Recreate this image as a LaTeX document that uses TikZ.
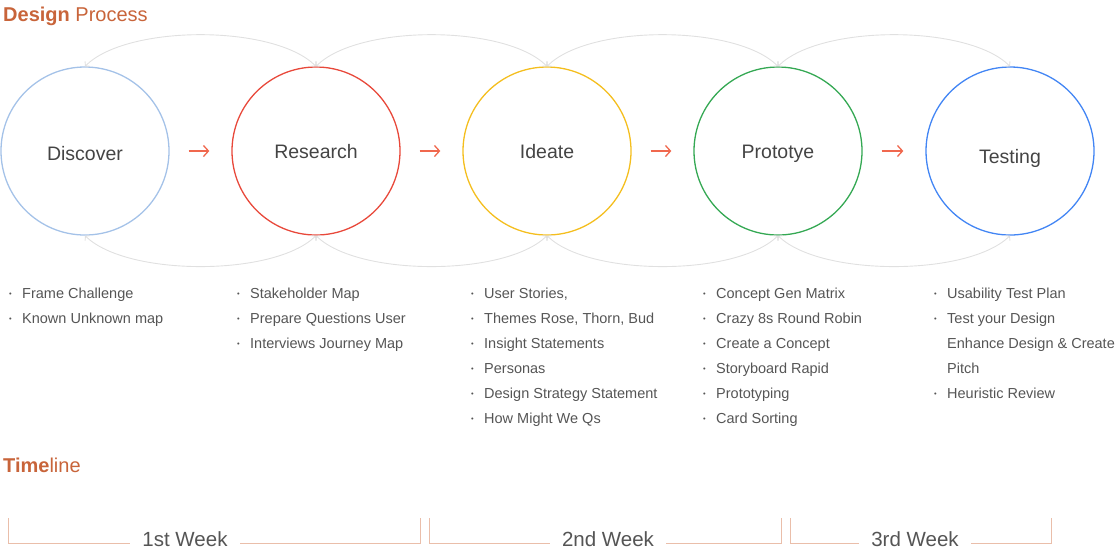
\documentclass[tikz,border=0pt]{standalone}
\usepackage{fontspec}
\setmainfont{Liberation Sans}
\usetikzlibrary{arrows.meta}
\definecolor{accent}{RGB}{200,100,58}
\definecolor{arrowred}{RGB}{240,104,78}
\definecolor{discover}{RGB}{164,194,232}
\definecolor{research}{RGB}{232,72,58}
\definecolor{ideate}{RGB}{244,190,30}
\definecolor{prototype}{RGB}{52,168,83}
\definecolor{testing}{RGB}{66,133,244}
\definecolor{loopgrey}{RGB}{224,224,224}
\definecolor{weekline}{RGB}{234,190,170}
\definecolor{txt}{RGB}{85,85,85}
\newcommand{\bul}{\makebox[13pt][l]{\raisebox{1.6pt}{\fontsize{7.5}{7.5}\selectfont\textbullet}}}

\begin{document}
\begin{tikzpicture}[
  x=1pt, y=-1pt,
  title/.style={anchor=base west, inner sep=0pt, text=accent, font=\fontsize{20}{24}\selectfont},
  phase/.style={circle, minimum size=168pt, inner sep=0pt, line width=1.3pt, text height=14pt, text depth=0pt, text=txt!80!black, font=\fontsize{19.5}{22}\selectfont},
  next/.style={-{Straight Barb[length=5pt, width=11pt]}, line width=1.3pt, arrowred, shorten <=19pt, shorten >=22pt},
  loop arc/.style={{Straight Barb[length=3pt, width=7pt]}-{Straight Barb[length=3pt, width=7pt]}, loopgrey, line width=0.9pt},
  item/.style={anchor=base west, inner sep=0pt, text=txt, font=\fontsize{14.5}{17}\selectfont},
  week/.style={weekline, line width=1pt},
  weeklabel/.style={anchor=base, fill=white, inner xsep=12pt, inner ysep=3pt, text=txt, font=\fontsize{20.5}{24}\selectfont}
]
\useasboundingbox (0,0) rectangle (1116,558);

% Titles
\node[title] (head) at (3,21) {\textbf{Design} Process};
\node[title] (tline) at (3,472) {\textbf{Time}line};

% Phases
\node[phase, draw=discover, text height=18pt] (dis) at (85,151) {Discover};
\node[phase, draw=research] (res) at (316,151) {Research};
\node[phase, draw=ideate] (ide) at (547,151) {Ideate};
\node[phase, draw=prototype] (pro) at (778,151) {Prototye};
\node[phase, draw=testing, text height=24pt] (tes) at (1010,151) {Testing};

% Forward arrows
\foreach \a/\b in {dis/res, res/ide, ide/pro, pro/tes}
  \draw[next] (\a) -- (\b);

% Loops back and forth
\foreach \a/\b in {dis/res, res/ide, ide/pro, pro/tes} {
  \draw[loop arc] (\a.north) .. controls +(42,-42) and +(-42,-42) .. (\b.north);
  \draw[loop arc] (\a.south) .. controls +(42,41) and +(-42,41) .. (\b.south);
}

% Methods per phase
\foreach \t [count=\k] in {Frame Challenge, Known Unknown map}
  \node[item] (dis-\k) at (9,273+25*\k) {\bul\t};
\foreach \t [count=\k] in {Stakeholder Map, Prepare Questions User, Interviews Journey Map}
  \node[item] (res-\k) at (237,273+25*\k) {\bul\t};
\foreach \t [count=\k] in {{User Stories,}, {Themes Rose, Thorn, Bud}, Insight Statements, Personas, Design Strategy Statement, How Might We Qs}
  \node[item] (ide-\k) at (471,273+25*\k) {\bul\t};
\foreach \t [count=\k] in {Concept Gen Matrix, Crazy 8s Round Robin, Create a Concept, Storyboard Rapid, Prototyping, Card Sorting}
  \node[item] (pro-\k) at (703,273+25*\k) {\bul\t};
\node[item] (tes-1) at (934,298) {\bul Usability Test Plan};
\node[item] (tes-2) at (934,323) {\bul Test your Design};
\node[item] (tes-3) at (934,348) {\hspace{13pt}Enhance Design \& Create};
\node[item] (tes-4) at (934,373) {\hspace{13pt}Pitch};
\node[item] (tes-5) at (934,398) {\bul Heuristic Review};

% Timeline
\draw[week] (8,518) |- (420,543) -- (420,518);
\draw[week] (429,518) |- (781,543) -- (781,518);
\draw[week] (790,518) |- (1051,543) -- (1051,518);
\node[weeklabel] (wk1) at (185,546) {1st Week};
\node[weeklabel] (wk2) at (608,546) {2nd Week};
\node[weeklabel] (wk3) at (915,546) {3rd Week};
\end{tikzpicture}
\end{document}
